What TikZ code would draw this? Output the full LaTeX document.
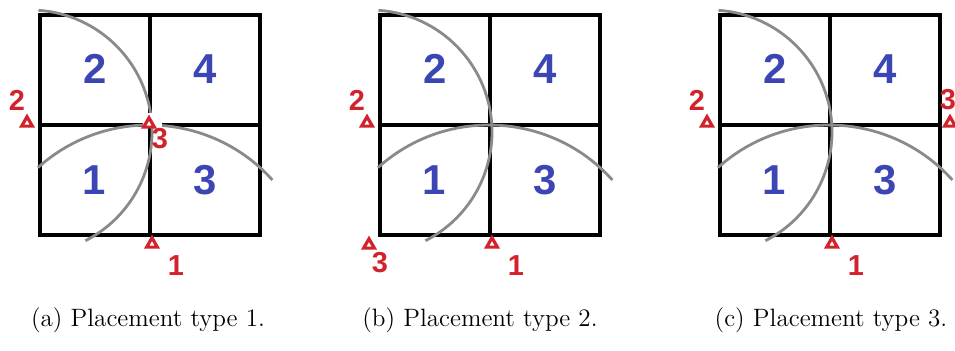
\documentclass[tikz,border=0pt]{standalone}
\usepackage{fontspec}
\newfontfamily\digitfont{Liberation Sans}
\usetikzlibrary{shapes.geometric}
\definecolor{cellblue}{HTML}{3B46B4}
\definecolor{markred}{HTML}{D2222C}
\definecolor{arcgray}{HTML}{8A8A8A}

\begin{document}
\begin{tikzpicture}[x=0.5bp,y=-0.5bp,
  grid/.style={line width=2bp,draw=black},
  sweep/.style={line width=1.4bp,draw=arcgray},
  cellnum/.style={font=\digitfont\bfseries\fontsize{21}{21}\selectfont,text=cellblue,inner sep=0pt},
  sensor/.style={regular polygon,regular polygon sides=3,draw=markred,line width=1.6bp,inner sep=0pt,minimum size=6.2bp},
  sensornum/.style={font=\digitfont\bfseries\fontsize{14.5}{14.5}\selectfont,text=markred,inner sep=0pt},
  caption/.style={font=\fontsize{12.6}{15}\selectfont,inner sep=0pt}
]
\useasboundingbox (0,0) rectangle (955,350);
\clip (0,0) rectangle (955,350);

% one panel per placement type
\foreach \ox/\tag/\mx/\my/\lx/\ly/\cx [count=\i] in {40/a/109/124/120/139/108, 380/b/-11/245/0/263/100, 720/c/230/123/228/100/111}{
  \begin{scope}[shift={(\ox,0)}]
    \draw[grid] (0,15) rectangle (220,235);
    \draw[grid] (110,15) -- (110,235);
    \draw[grid] (0,125) -- (220,125);
    % coverage arcs
    \draw[sweep] (-10,132) ++(-86:122) arc[start angle=-86,end angle=63,radius=122];
    \draw[sweep] (109,291) ++(-132:166) arc[start angle=-132,end angle=-42,radius=166];
    \ifnum\i=1 \fill[white] (103,113) rectangle (122,128); \fi
    \node[cellnum] (c2\tag) at (55,69) {2};
    \node[cellnum] (c4\tag) at (165,69) {4};
    \node[cellnum] (c1\tag) at (54,180) {1};
    \node[cellnum] (c3\tag) at (165,180) {3};
    % sensors
    \node[sensor] (s1\tag) at (112,244) {};
    \node[sensornum] (n1\tag) at (136,266) {1};
    \node[sensor] (s2\tag) at (-13,123) {};
    \node[sensornum] (n2\tag) at (-23,100) {2};
    \node[sensor] (s3\tag) at (\mx,\my) {};
    \node[sensornum] (n3\tag) at (\lx,\ly) {3};
    \node[caption] (cap\tag) at (\cx,320) {(\tag) Placement type \i.};
  \end{scope}
}
\end{tikzpicture}
\end{document}
